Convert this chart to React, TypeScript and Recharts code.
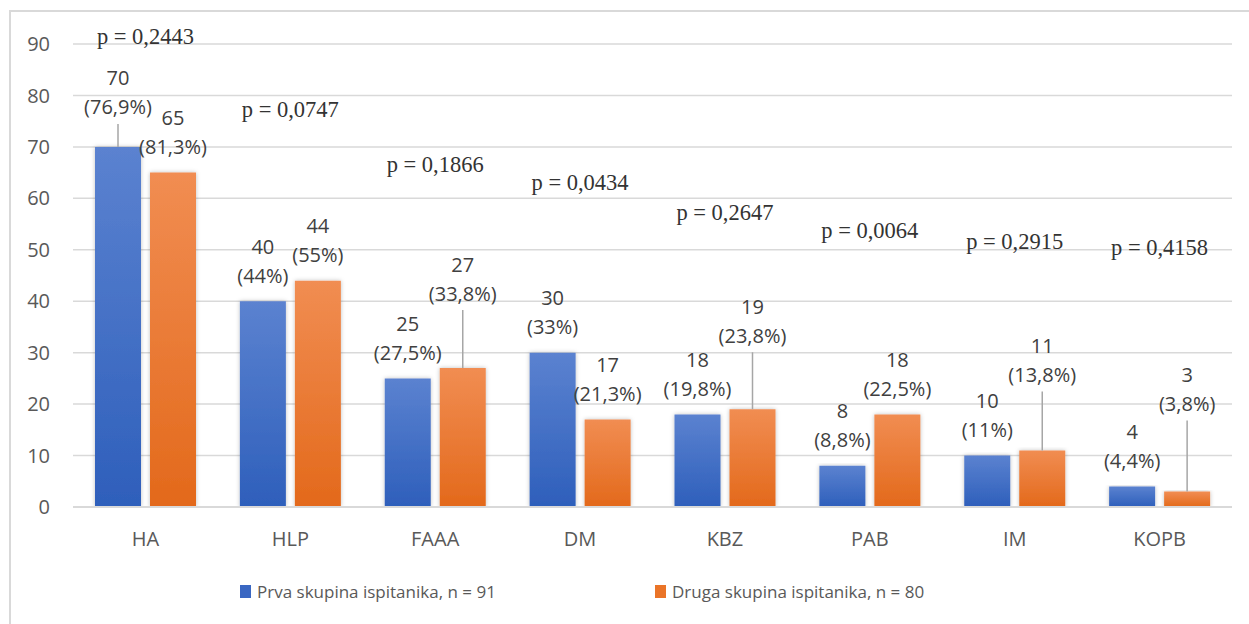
import {
  ComposedChart,
  Bar,
  Line,
  XAxis,
  YAxis,
  CartesianGrid,
  Legend,
  LabelList,
} from "recharts";

const categories = ["HA", "HLP", "FAAA", "DM", "KBZ", "PAB", "IM", "KOPB"];
const group1 = [70, 40, 25, 30, 18, 8, 10, 4];
const group1Pct = ["76,9%", "44%", "27,5%", "33%", "19,8%", "8,8%", "11%", "4,4%"];
const group2 = [65, 44, 27, 17, 19, 18, 11, 3];
const group2Pct = ["81,3%", "55%", "33,8%", "21,3%", "23,8%", "22,5%", "13,8%", "3,8%"];
const pValues = ["0,2443", "0,0747", "0,1866", "0,0434", "0,2647", "0,0064", "0,2915", "0,4158"];
const yTicks = [0, 10, 20, 30, 40, 50, 60, 70, 80, 90];

// hand placed label spots from the original (axis units / px)
const pLabelAt = [91.4, 77.2, 66.5, 63, 57.2, 53.7, 51.7, 50.5];
const lift1 = [14, 0, 0, 0, 0, 0, 0, 0];
const lift2 = [0, 0, 49, 0, 48, 0, 50, 62];

const data = categories.map((name, i) => ({
  name,
  g1: group1[i],
  g2: group2[i],
  pAt: pLabelAt[i],
  p: `p = ${pValues[i]}`,
}));

const labelFont = "'Open Sans', 'Noto Sans', sans-serif";

const valueLabel = (pcts: string[], lifts: number[]) => (props: any) => {
  const { x, y, width, value, index } = props;
  const cx = x + width / 2;
  const lift = lifts[index] || 0;
  const line2 = y - 26 - lift;
  return (
    <g>
      {lift > 0 && (
        <line x1={cx} x2={cx} y1={line2 + 17} y2={y} stroke="#a6a6a6" strokeWidth={1.5} />
      )}
      <text x={cx} y={line2 - 29} textAnchor="middle" dominantBaseline="central"
        fontSize={20} fill="#404040" fontFamily={labelFont}>
        {value}
      </text>
      <text x={cx} y={line2} textAnchor="middle" dominantBaseline="central"
        fontSize={20} fill="#404040" fontFamily={labelFont}>
        ({pcts[index]})
      </text>
    </g>
  );
};

const pLabel = (props: any) => {
  const { x, y, value } = props;
  return (
    <text x={x} y={y} textAnchor="middle" dominantBaseline="central" fontSize={22.5}
      fill="#333" fontFamily="'Liberation Serif', serif">
      {value}
    </text>
  );
};

const legendItems = [
  { label: "Prva skupina ispitanika, n = 91", color: "#3a67c2" },
  { label: "Druga skupina ispitanika, n = 80", color: "#ea7428" },
];

const renderLegend = () => (
  <div style={{ display: "flex", fontFamily: labelFont, fontSize: 17, color: "#595959" }}>
    {legendItems.map((it) => (
      <div key={it.label} style={{ display: "flex", alignItems: "center", width: 415 }}>
        <span style={{ width: 11, height: 13, background: it.color, marginRight: 6 }} />
        <span>{it.label}</span>
      </div>
    ))}
  </div>
);

export default function App() {
  return (
    <div style={{ position: "absolute", left: 0, top: 0, width: 1249, height: 624, overflow: "hidden", background: "#fff" }}>
      <div style={{ position: "absolute", left: 9, top: 10, width: 1260, height: 640, borderLeft: "2px solid #d9d9d9", borderTop: "2px solid #d9d9d9" }} />
      <div style={{ position: "absolute", left: 10, top: 11 }}>
        <ComposedChart
          width={1239}
          height={613}
          data={data}
          margin={{ top: 33, right: 17, left: 0, bottom: 57 }}
          barGap={9}
        >
          <defs>
            <linearGradient id="gBlue" x1="0" y1="0" x2="0" y2="1">
              <stop offset="0%" stopColor="#5b82d0" />
              <stop offset="100%" stopColor="#2e5fbb" />
            </linearGradient>
            <linearGradient id="gOrange" x1="0" y1="0" x2="0" y2="1">
              <stop offset="0%" stopColor="#f18d52" />
              <stop offset="100%" stopColor="#e3691b" />
            </linearGradient>
            <filter id="barShadow" x="-20%" y="-5%" width="140%" height="110%">
              <feDropShadow dx="0" dy="0" stdDeviation="2" floodColor="#000" floodOpacity="0.25" />
            </filter>
          </defs>
          <CartesianGrid vertical={false} stroke="#d9d9d9" strokeWidth={1.5} />
          <XAxis
            dataKey="name"
            height={60}
            tickLine={false}
            tickSize={0}
            tickMargin={25}
            axisLine={{ stroke: "#d9d9d9", strokeWidth: 2 }}
            tick={{ fill: "#595959", fontSize: 20, fontFamily: labelFont }}
          />
          <YAxis
            domain={[0, 90]}
            ticks={yTicks}
            allowDataOverflow
            width={63}
            axisLine={false}
            tickLine={false}
            tickSize={0}
            tickMargin={23}
            tick={{ fill: "#595959", fontSize: 20, fontFamily: labelFont }}
          />
          <Legend
            layout="vertical"
            verticalAlign="middle"
            align="center"
            content={renderLegend}
            wrapperStyle={{ left: 230, top: 569, width: 900, height: 24 }}
          />
          <Bar dataKey="g1" name="Prva skupina ispitanika, n = 91" barSize={46}
            fill="url(#gBlue)" filter="url(#barShadow)" isAnimationActive={false}>
            <LabelList dataKey="g1" content={valueLabel(group1Pct, lift1)} />
          </Bar>
          <Bar dataKey="g2" name="Druga skupina ispitanika, n = 80" barSize={46}
            fill="url(#gOrange)" filter="url(#barShadow)" isAnimationActive={false}>
            <LabelList dataKey="g2" content={valueLabel(group2Pct, lift2)} />
          </Bar>
          <Line dataKey="pAt" stroke="none" dot={false} activeDot={false}
            legendType="none" isAnimationActive={false}>
            <LabelList dataKey="p" content={pLabel} />
          </Line>
        </ComposedChart>
      </div>
    </div>
  );
}
